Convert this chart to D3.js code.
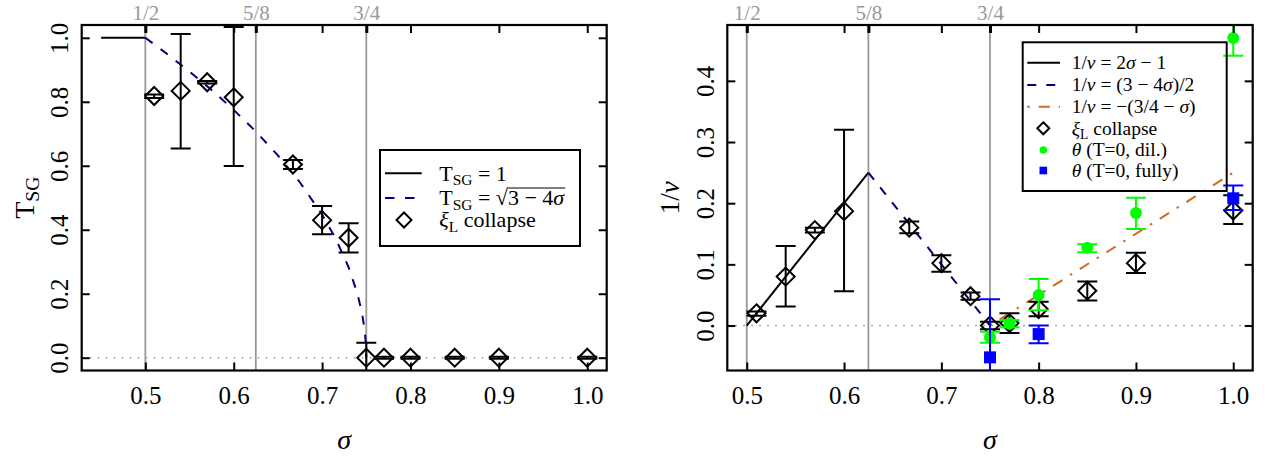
<!DOCTYPE html>
<html><head><meta charset="utf-8">
<script src="https://cdn.jsdelivr.net/npm/d3@7"></script>
<style>body{margin:0;background:#fff}svg{display:block}</style>
</head><body>
<svg id="c" width="1266" height="457"></svg>
<script>
// ---------- data ----------
const fracTicks = [0.5, 0.625, 0.75];
const fracLabels = ["1/2", "5/8", "3/4"];
const xTickVals = [0.5, 0.6, 0.7, 0.8, 0.9, 1.0];
const leftYTicks = [0, 0.2, 0.4, 0.6, 0.8, 1.0];
const rightYTicks = [0, 0.1, 0.2, 0.3, 0.4];

// left panel: T_SG from xi_L collapse
const sigmaL = [0.51, 0.54, 0.57, 0.60, 0.667, 0.70, 0.73, 0.75, 0.77, 0.80, 0.85, 0.90, 1.00];
const tsg    = [0.818, 0.834, 0.861, 0.814, 0.604, 0.430, 0.375, 0.000, 0.000, 0.000, 0.000, 0.000, 0.000];
const tsgLo  = [0.812, 0.654, 0.857, 0.599, 0.590, 0.386, 0.329, -0.047, -0.003, -0.003, -0.003, -0.003, -0.003];
const tsgHi  = [0.823, 1.012, 0.865, 1.034, 0.618, 0.474, 0.420, 0.047, 0.003, 0.003, 0.003, 0.003, 0.003];
// theory: T_SG = 1 for sigma<=1/2, T_SG = sqrt(3-4 sigma) for 1/2<sigma<3/4
const constSigma = [0.45, 0.5];
const constT = [1, 1];
const sqrtSigma = [0.5, 0.525, 0.55, 0.575, 0.6, 0.625, 0.65, 0.675, 0.7, 0.715, 0.73, 0.74, 0.745, 0.748, 0.7495, 0.75];

// right panel: 1/nu
const sigmaR = [0.51, 0.54, 0.57, 0.60, 0.667, 0.70, 0.73, 0.75, 0.77, 0.80, 0.85, 0.90, 1.00];
const nuXi   = [0.020, 0.080, 0.156, 0.187, 0.160, 0.102, 0.048, 0.000, 0.004, 0.027, 0.057, 0.102, 0.188];
const nuXiLo = [0.016, 0.031, 0.152, 0.056, 0.151, 0.088, 0.042, -0.006, -0.012, 0.015, 0.041, 0.086, 0.166];
const nuXiHi = [0.023, 0.130, 0.160, 0.320, 0.170, 0.115, 0.054, 0.006, 0.020, 0.039, 0.072, 0.119, 0.213];

const sigmaG = [0.75, 0.77, 0.80, 0.85, 0.90, 1.00];
const nuG    = [-0.019, 0.003, 0.050, 0.127, 0.184, 0.470];
const nuGLo  = [-0.028, -0.003, 0.025, 0.120, 0.158, 0.441];
const nuGHi  = [-0.010, 0.009, 0.076, 0.133, 0.209, 0.500];

const sigmaB = [0.75, 0.80, 1.00];
const nuB    = [-0.052, -0.014, 0.208];
const nuBLo  = [-0.147, -0.029, 0.189];
const nuBHi  = [0.043, 0.000, 0.229];

// theory lines (endpoints)
const lineA = {s: [0.5, 0.625], v: [0, 0.25]};     // 2 sigma - 1
const lineB = {s: [0.625, 0.75], v: [0.25, 0]};    // (3-4 sigma)/2
const lineC = {s: [0.75, 1.0], v: [0, 0.25]};      // -(3/4 - sigma)

// ---------- setup ----------
const FONT = "'Liberation Serif', Tinos, 'Times New Roman', 'DejaVu Serif', 'Noto Serif', serif";
const GRAY = "#999999";
const NAVY = "#000080";
const ORANGE = "#D2691E";
const GREEN = "#00FF00";
const BLUE = "#0000FF";

const svg = d3.select("#c");
const L = {l: 81.7, r: 606.7, t: 25, b: 370.5};
const R = {l: 727.3, r: 1252.7, t: 25, b: 370.5};
const xL = d3.scaleLinear().domain([0.428, 1.022]).range([L.l, L.r]);
const yL = d3.scaleLinear().domain([-0.04, 1.04]).range([L.b, L.t]);
const xR = d3.scaleLinear().domain([0.48, 1.02]).range([R.l, R.r]);
const yR = d3.scaleLinear().domain([-0.0735, 0.4913]).range([R.b, R.t]);

const defs = svg.append("defs");

function mathText(parent, x, y, parts, size, opts = {}) {
  const t = parent.append("text").attr("x", x).attr("y", y)
    .attr("font-family", FONT).style("font-family", FONT).style("font-size", size + "px")
    .attr("fill", opts.fill || "#000")
    .attr("text-anchor", opts.anchor || "start");
  if (opts.transform) t.attr("transform", opts.transform);
  let shifted = 0;
  parts.forEach(p => {
    const ts = t.append("tspan").text(p.t);
    let dy = 0;
    if (p.sub) { ts.style("font-size", (size * 0.7) + "px"); dy = size * 0.2 - shifted; shifted = size * 0.2; }
    else { dy = -shifted; shifted = 0; }
    if (dy !== 0) ts.attr("dy", dy);
    if (p.i) ts.style("font-style", "italic");
  });
  return t;
}

function panel(box, x, y, id) {
  defs.append("clipPath").attr("id", id).append("rect")
    .attr("x", box.l).attr("y", box.t).attr("width", box.r - box.l).attr("height", box.b - box.t);
  const g = svg.append("g").attr("clip-path", `url(#${id})`);
  g.selectAll("line.frac").data(fracTicks).join("line").attr("class", "frac")
    .attr("x1", d => x(d)).attr("x2", d => x(d)).attr("y1", box.t).attr("y2", box.b)
    .attr("stroke", GRAY).attr("stroke-width", 1.8);
  g.append("line").attr("x1", box.l).attr("x2", box.r).attr("y1", y(0)).attr("y2", y(0))
    .attr("stroke", GRAY).attr("stroke-width", 1.6).attr("stroke-dasharray", "1.6 6.4");
  return g;
}

function axes(box, x, y, yTicks) {
  const styleTicks = (g, w) => {
    g.select(".domain").remove();
    g.attr("font-family", FONT);
    g.selectAll("line").attr("stroke", "#000").attr("stroke-width", w);
  };
  const gb = svg.append("g").attr("transform", `translate(0,${box.b})`)
    .call(d3.axisBottom(x).tickValues(xTickVals).tickSize(-8).tickFormat(d3.format(".1f")));
  styleTicks(gb, 2);
  gb.selectAll("text").attr("y", 33.5).attr("dy", null).attr("fill", "#000")
    .style("font-family", FONT).style("font-size", "25px");

  const gt = svg.append("g").attr("transform", `translate(0,${box.t})`)
    .call(d3.axisTop(x).tickValues(xTickVals).tickSize(-8).tickFormat(""));
  styleTicks(gt, 2);
  const gf = svg.append("g").attr("transform", `translate(0,${box.t})`)
    .call(d3.axisTop(x).tickValues(fracTicks).tickSize(-8).tickFormat((d, i) => fracLabels[i]));
  styleTicks(gf, 3);
  gf.selectAll("text").attr("y", -5).attr("dy", null).attr("fill", GRAY)
    .style("font-family", FONT).style("font-size", "21px");

  const gl = svg.append("g").attr("transform", `translate(${box.l},0)`)
    .call(d3.axisLeft(y).tickValues(yTicks).tickSize(-8).tickFormat(d3.format(".1f")));
  styleTicks(gl, 2);
  gl.selectAll("text").attr("x", null).attr("dy", null).attr("text-anchor", "middle").attr("fill", "#000")
    .attr("transform", "translate(-13.5,0) rotate(-90)")
    .style("font-family", FONT).style("font-size", "25px");

  const gr = svg.append("g").attr("transform", `translate(${box.r},0)`)
    .call(d3.axisRight(y).tickValues(yTicks).tickSize(-8).tickFormat(""));
  styleTicks(gr, 2);

  svg.append("rect").attr("x", box.l).attr("y", box.t).attr("width", box.r - box.l).attr("height", box.b - box.t)
    .attr("fill", "none").attr("stroke", "#000").attr("stroke-width", 2.2);
}

function errbars(g, xs, lo, hi, x, y, color, w = 2) {
  const cap = 10;
  xs.forEach((s, i) => {
    const cx = x(s), y1 = y(lo[i]), y2 = y(hi[i]);
    g.append("line").attr("x1", cx).attr("x2", cx).attr("y1", y1).attr("y2", y2).attr("stroke", color).attr("stroke-width", w);
    [y1, y2].forEach(yy => g.append("line").attr("x1", cx - cap).attr("x2", cx + cap).attr("y1", yy).attr("y2", yy)
      .attr("stroke", color).attr("stroke-width", w));
  });
}
const diamondPath = r => `M0,${-r}L${r},0L0,${r}L${-r},0Z`;
function diamonds(g, xs, vs, x, y, r = 9) {
  g.selectAll(null).data(xs).join("path")
    .attr("d", diamondPath(r)).attr("transform", (d, i) => `translate(${x(d)},${y(vs[i])})`)
    .attr("fill", "none").attr("stroke", "#000").attr("stroke-width", 2);
}

// ---------- left panel ----------
const gL = panel(L, xL, yL, "clipL");
const line = (x, y) => d3.line().x(d => x(d[0])).y(d => y(d[1]));
gL.append("path").attr("d", line(xL, yL)(constSigma.map((s, i) => [s, constT[i]])))
  .attr("fill", "none").attr("stroke", "#000").attr("stroke-width", 2);
gL.append("path").attr("d", line(xL, yL)(sqrtSigma.map(s => [s, Math.sqrt(Math.max(0, 3 - 4 * s))])))
  .attr("fill", "none").attr("stroke", NAVY).attr("stroke-width", 2).attr("stroke-dasharray", "9 10");
errbars(gL, sigmaL, tsgLo, tsgHi, xL, yL, "#000");
diamonds(gL, sigmaL, tsg, xL, yL);
axes(L, xL, yL, leftYTicks);

// left titles
mathText(svg, (L.l + L.r) / 2, 449, [{t: "σ", i: true}], 28, {anchor: "middle"});
mathText(svg, 0, 0, [{t: "T"}, {t: "SG", sub: true}], 28,
  {anchor: "middle", transform: `translate(${L.l - 48},${(L.t + L.b) / 2}) rotate(-90)`});

// left legend
const lgL = svg.append("g");
lgL.append("rect").attr("x", 380).attr("y", 150).attr("width", 200).attr("height", 96)
  .attr("fill", "none").attr("stroke", "#000").attr("stroke-width", 2);
lgL.append("line").attr("x1", 385).attr("x2", 421.7).attr("y1", 173.3).attr("y2", 173.3).attr("stroke", "#000").attr("stroke-width", 2);
lgL.append("line").attr("x1", 385).attr("x2", 421.7).attr("y1", 198).attr("y2", 198).attr("stroke", NAVY).attr("stroke-width", 2).attr("stroke-dasharray", "9.5 10.5");
lgL.append("path").attr("d", diamondPath(7.5)).attr("transform", "translate(404,220)").attr("fill", "none").attr("stroke", "#000").attr("stroke-width", 2);
mathText(lgL, 439.3, 180.5, [{t: "T"}, {t: "SG", sub: true}, {t: " = 1"}], 22);
const sq = mathText(lgL, 439.3, 205.2, [{t: "T"}, {t: "SG", sub: true}, {t: " = √"}, {t: "3 − 4"}, {t: "σ", i: true}], 22);
{
  const n = sq.node();
  const txt = n.textContent;
  const iR = txt.indexOf("√");
  const x1 = n.getEndPositionOfChar(iR).x - 0.5;
  const x2 = n.getEndPositionOfChar(txt.length - 1).x + 1;
  lgL.append("line").attr("x1", x1).attr("x2", x2).attr("y1", 205.2 - 17.2).attr("y2", 205.2 - 17.2)
    .attr("stroke", "#000").attr("stroke-width", 1.1);
}
mathText(lgL, 439.3, 227.2, [{t: "ξ", i: true}, {t: "L", sub: true}, {t: " collapse"}], 22);

// ---------- right panel ----------
const gR = panel(R, xR, yR, "clipR");
gR.append("path").attr("d", line(xR, yR)(lineA.s.map((s, i) => [s, lineA.v[i]])))
  .attr("fill", "none").attr("stroke", "#000").attr("stroke-width", 2);
gR.append("path").attr("d", line(xR, yR)(lineB.s.map((s, i) => [s, lineB.v[i]])))
  .attr("fill", "none").attr("stroke", NAVY).attr("stroke-width", 2).attr("stroke-dasharray", "9 10");
gR.append("path").attr("d", line(xR, yR)(lineC.s.map((s, i) => [s, lineC.v[i]])))
  .attr("fill", "none").attr("stroke", ORANGE).attr("stroke-width", 2).attr("stroke-dasharray", "2.5 9 11 9");
errbars(gR, sigmaR, nuXiLo, nuXiHi, xR, yR, "#000");
diamonds(gR, sigmaR, nuXi, xR, yR);
errbars(gR, sigmaG, nuGLo, nuGHi, xR, yR, GREEN);
gR.selectAll(null).data(sigmaG).join("circle")
  .attr("cx", d => xR(d)).attr("cy", (d, i) => yR(nuG[i])).attr("r", 6).attr("fill", GREEN);
errbars(gR, sigmaB, nuBLo, nuBHi, xR, yR, BLUE);
gR.selectAll(null).data(sigmaB).join("rect")
  .attr("x", d => xR(d) - 6).attr("y", (d, i) => yR(nuB[i]) - 6).attr("width", 12).attr("height", 12).attr("fill", BLUE);
axes(R, xR, yR, rightYTicks);

mathText(svg, (R.l + R.r) / 2, 449, [{t: "σ", i: true}], 28, {anchor: "middle"});
mathText(svg, 0, 0, [{t: "1/"}, {t: "ν", i: true}], 27,
  {anchor: "middle", transform: `translate(${R.l - 48},${(R.t + R.b) / 2}) rotate(-90)`});

// right legend
const lgR = svg.append("g");
lgR.append("rect").attr("x", 1022.7).attr("y", 42.3).attr("width", 204).attr("height", 148.7)
  .attr("fill", "none").attr("stroke", "#000").attr("stroke-width", 2);
const rows = [62.7, 85, 106.7, 128.3, 150, 170.5];
const sx1 = 1027.3, sx2 = 1060, sxc = 1043.3, tx = 1071.7;
lgR.append("line").attr("x1", sx1).attr("x2", sx2).attr("y1", rows[0]).attr("y2", rows[0]).attr("stroke", "#000").attr("stroke-width", 2);
lgR.append("line").attr("x1", sx1).attr("x2", sx2).attr("y1", rows[1]).attr("y2", rows[1]).attr("stroke", NAVY).attr("stroke-width", 2).attr("stroke-dasharray", "9 10");
lgR.append("line").attr("x1", sx1).attr("x2", sx2).attr("y1", rows[2]).attr("y2", rows[2]).attr("stroke", ORANGE).attr("stroke-width", 2).attr("stroke-dasharray", "2.5 9 11 9");
lgR.append("path").attr("d", diamondPath(6)).attr("transform", `translate(${sxc},${rows[3]})`).attr("fill", "none").attr("stroke", "#000").attr("stroke-width", 2);
lgR.append("circle").attr("cx", sxc).attr("cy", rows[4]).attr("r", 3.8).attr("fill", GREEN);
lgR.append("rect").attr("x", sxc - 3.8).attr("y", rows[5] - 3.8).attr("width", 7.6).attr("height", 7.6).attr("fill", BLUE);
const fs = 19.5, bo = 6.3;
mathText(lgR, tx, rows[0] + bo, [{t: "1/"}, {t: "ν", i: true}, {t: " = 2"}, {t: "σ", i: true}, {t: " − 1"}], fs);
mathText(lgR, tx, rows[1] + bo, [{t: "1/"}, {t: "ν", i: true}, {t: " = (3 − 4"}, {t: "σ", i: true}, {t: ")/2"}], fs);
mathText(lgR, tx, rows[2] + bo, [{t: "1/"}, {t: "ν", i: true}, {t: " = −(3/4 − "}, {t: "σ", i: true}, {t: ")"}], fs);
mathText(lgR, tx, rows[3] + bo, [{t: "ξ", i: true}, {t: "L", sub: true}, {t: " collapse"}], fs);
mathText(lgR, tx, rows[4] + bo, [{t: "θ", i: true}, {t: " (T=0, dil.)"}], fs);
mathText(lgR, tx, rows[5] + bo, [{t: "θ", i: true}, {t: " (T=0, fully)"}], fs);
</script>
</body></html>
